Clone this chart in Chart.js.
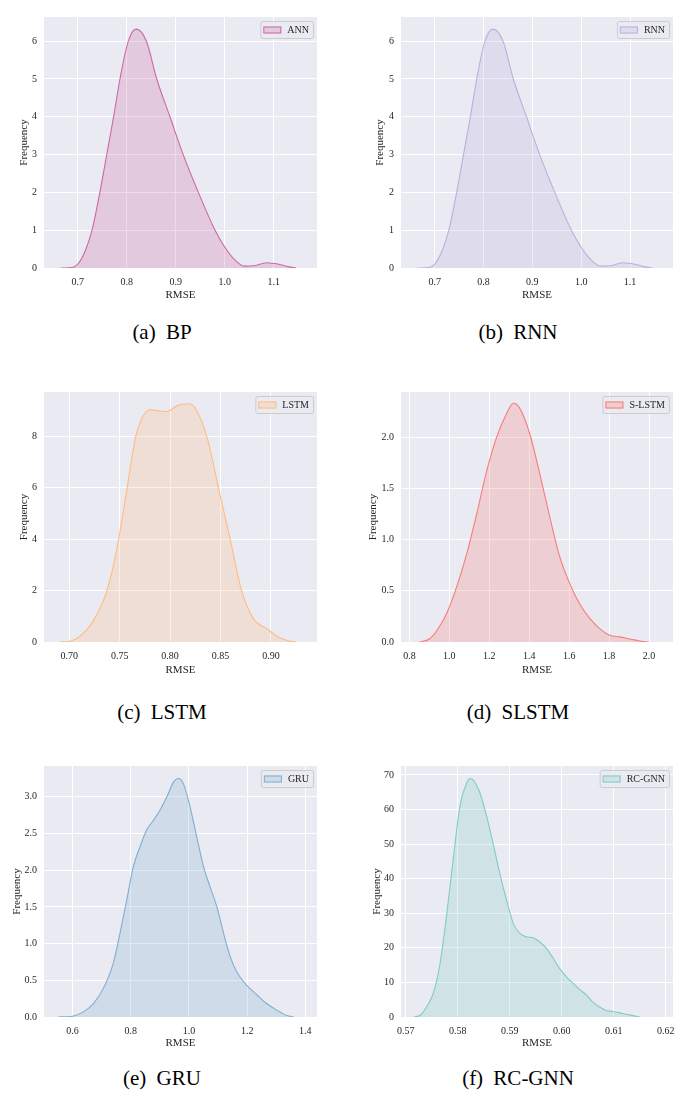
<!DOCTYPE html>
<html>
<head>
<meta charset="utf-8">
<script src="https://cdn.jsdelivr.net/npm/chart.js@4.4.0/dist/chart.umd.min.js"></script>
<style>
    body { margin: 0; background: #fff; width: 685px; height: 1093px; position: relative; overflow: hidden; }
    canvas { position: absolute; }
    .cap { position: absolute; font-family: "Liberation Serif", serif; font-size: 21px; color: #000;
           white-space: pre; transform: translate(-50%, -50%); word-spacing: 5px; }
</style>
</head>
<body>
<canvas id="c1"></canvas>
<canvas id="c2"></canvas>
<canvas id="c3"></canvas>
<canvas id="c4"></canvas>
<canvas id="c5"></canvas>
<canvas id="c6"></canvas>
<div class="cap" id="cap1"></div>
<div class="cap" id="cap2"></div>
<div class="cap" id="cap3"></div>
<div class="cap" id="cap4"></div>
<div class="cap" id="cap5"></div>
<div class="cap" id="cap6"></div>

<script>
// density curves (RMSE -> frequency)
const bpX = [0.665, 0.69, 0.70, 0.715, 0.729, 0.745, 0.759, 0.773, 0.786, 0.803, 0.819, 0.84, 0.861, 0.888, 0.915, 0.946, 0.98, 1.0, 1.02, 1.04, 1.06, 1.085, 1.11, 1.13, 1.145];
const bpY = [0, 0.02, 0.1, 0.45, 1.0, 2.0, 3.0, 4.0, 5.0, 6.0, 6.32, 6.0, 5.0, 4.0, 3.0, 2.0, 1.0, 0.55, 0.22, 0.05, 0.06, 0.14, 0.1, 0.03, 0];

const rnnX = [0.665, 0.69, 0.70, 0.715, 0.729, 0.745, 0.759, 0.773, 0.786, 0.803, 0.819, 0.84, 0.861, 0.888, 0.915, 0.946, 0.98, 1.0, 1.02, 1.04, 1.06, 1.085, 1.11, 1.13, 1.145];
const rnnY = [0, 0.02, 0.1, 0.45, 1.0, 2.0, 3.0, 4.0, 5.0, 6.0, 6.32, 6.0, 5.0, 4.0, 3.0, 2.0, 1.0, 0.55, 0.22, 0.05, 0.06, 0.14, 0.1, 0.03, 0];

const lstmX = [0.69, 0.70, 0.707, 0.717, 0.727, 0.737, 0.747, 0.757, 0.766, 0.772, 0.780, 0.788, 0.797, 0.807, 0.818, 0.825, 0.8364, 0.848, 0.8596, 0.871, 0.8828, 0.896, 0.906, 0.916, 0.925];
const lstmY = [0, 0.03, 0.13, 0.45, 1.04, 1.95, 3.57, 5.9, 8.0, 8.7, 9.04, 9.0, 8.97, 9.2, 9.27, 9.1, 8.0, 6.0, 4.0, 2.0, 0.9, 0.52, 0.22, 0.06, 0];

const slstmX = [0.85, 0.9, 0.937, 0.987, 1.037, 1.087, 1.137, 1.187, 1.237, 1.287, 1.32, 1.353, 1.403, 1.453, 1.503, 1.553, 1.603, 1.653, 1.703, 1.753, 1.803, 1.853, 1.903, 1.953, 2.0];
const slstmY = [0, 0.03, 0.11, 0.28, 0.54, 0.86, 1.25, 1.67, 2.0, 2.23, 2.33, 2.28, 2.03, 1.64, 1.22, 0.83, 0.57, 0.37, 0.23, 0.13, 0.065, 0.05, 0.03, 0.01, 0];

const gruX = [0.55, 0.6, 0.637, 0.671, 0.706, 0.74, 0.763, 0.786, 0.809, 0.832, 0.855, 0.878, 0.901, 0.924, 0.947, 0.964, 0.981, 1.004, 1.027, 1.05, 1.073, 1.096, 1.119, 1.142, 1.165, 1.199, 1.234, 1.268, 1.303, 1.337, 1.36];
const gruY = [0, 0.01, 0.07, 0.18, 0.39, 0.73, 1.14, 1.59, 2.05, 2.32, 2.55, 2.68, 2.82, 3.0, 3.2, 3.25, 3.18, 2.86, 2.45, 2.05, 1.77, 1.5, 1.14, 0.82, 0.61, 0.43, 0.30, 0.18, 0.09, 0.02, 0];

const rcgnnX = [0.5716, 0.5728, 0.574, 0.5753, 0.5766, 0.5779, 0.5792, 0.5804, 0.5817, 0.5824, 0.583, 0.5843, 0.5856, 0.5868, 0.5881, 0.5894, 0.5907, 0.592, 0.5932, 0.5945, 0.5958, 0.5971, 0.5984, 0.5996, 0.6009, 0.6022, 0.6035, 0.6048, 0.606, 0.6073, 0.6086, 0.6099, 0.6112, 0.6124, 0.6137, 0.615];
const rcgnnY = [0, 0.5, 2.9, 6.8, 15.4, 29.9, 46.3, 60.8, 67.6, 69, 68.5, 64.7, 57.9, 50.2, 41.5, 33.8, 27, 24.1, 23.2, 22.9, 21.7, 19.8, 16.9, 14, 11.6, 9.7, 7.9, 6.3, 4.3, 2.9, 1.9, 1.6, 1.2, 0.8, 0.4, 0];

// tick labels
const bpXTicks = ["0.7", "0.8", "0.9", "1.0", "1.1"];
const bpYTicks = ["0", "1", "2", "3", "4", "5", "6"];
const lstmXTicks = ["0.70", "0.75", "0.80", "0.85", "0.90"];
const lstmYTicks = ["0", "2", "4", "6", "8"];
const slstmXTicks = ["0.8", "1.0", "1.2", "1.4", "1.6", "1.8", "2.0"];
const slstmYTicks = ["0.0", "0.5", "1.0", "1.5", "2.0"];
const gruXTicks = ["0.6", "0.8", "1.0", "1.2", "1.4"];
const gruYTicks = ["0.0", "0.5", "1.0", "1.5", "2.0", "2.5", "3.0"];
const rcgnnXTicks = ["0.57", "0.58", "0.59", "0.60", "0.61", "0.62"];
const rcgnnYTicks = ["0", "10", "20", "30", "40", "50", "60", "70"];

const seriesNames = ["ANN", "RNN", "LSTM", "S-LSTM", "GRU", "RC-GNN"];
const captions = ["(a) BP", "(b) RNN", "(c) LSTM", "(d) SLSTM", "(e) GRU", "(f) RC-GNN"];

const tickFont = { family: "'Liberation Serif', serif", size: 10 };
const titleFont = { family: "'Liberation Serif', serif", size: 11 };
const textColor = "#262626";

// page layout, in page pixels
const panels = [
    { id: "c1", x: bpX, y: bpY, xt: bpXTicks, yt: bpYTicks, rgb: "205,105,165", xr: [0.631, 1.188], yMax: 6.64,
      box: [0, 0, 340, 305], plot: [44, 17, 317, 268], yPad: 17.4, cap: [162, 332] },
    { id: "c2", x: rnnX, y: rnnY, xt: bpXTicks, yt: bpYTicks, rgb: "186,176,222", xr: [0.631, 1.188], yMax: 6.64,
      box: [345, 0, 340, 305], plot: [401, 17, 673, 268], yPad: 28.4, cap: [518, 332] },
    { id: "c3", x: lstmX, y: lstmY, xt: lstmXTicks, yt: lstmYTicks, rgb: "255,188,128", xr: [0.675, 0.9457], yMax: 9.73,
      box: [0, 378, 340, 302], plot: [44, 392, 317, 642], yPad: 17.4, cap: [162, 712] },
    { id: "c4", x: slstmX, y: slstmY, xt: slstmXTicks, yt: slstmYTicks, rgb: "248,124,120", xr: [0.758, 2.12], yMax: 2.44,
      box: [345, 378, 340, 302], plot: [401, 392, 673, 642], yPad: 21.4, cap: [518, 712] },
    { id: "c5", x: gruX, y: gruY, xt: gruXTicks, yt: gruYTicks, rgb: "128,174,208", xr: [0.502, 1.44], yMax: 3.42,
      box: [0, 750, 340, 303], plot: [44, 766, 317, 1017], yPad: 10.4, cap: [162, 1078] },
    { id: "c6", x: rcgnnX, y: rcgnnY, xt: rcgnnXTicks, yt: rcgnnYTicks, rgb: "128,204,196", xr: [0.5691, 0.6214], yMax: 72.6,
      box: [345, 750, 340, 303], plot: [401, 766, 673, 1017], yPad: 25.4, cap: [518, 1078] }
];

// seaborn-ish grey plot background
const bgPlugin = {
    id: "bg",
    beforeDraw(chart) {
        const a = chart.chartArea, ctx = chart.ctx;
        ctx.save();
        ctx.fillStyle = "#EAEAF2";
        ctx.fillRect(a.left, a.top, a.right - a.left, a.bottom - a.top);
        ctx.restore();
    }
};

// legend box in the upper right corner of the plot area
const boxLegend = {
    id: "boxLegend",
    afterDraw(chart) {
        const a = chart.chartArea, ctx = chart.ctx;
        const ds = chart.data.datasets[0];
        ctx.save();
        ctx.font = "10px 'Liberation Serif', serif";
        const tw = ctx.measureText(ds.label).width;
        const w = 3 + 18 + 6 + tw + 4, h = 17;
        const x = a.right - 4 - w, y = a.top + 4;
        ctx.beginPath();
        ctx.roundRect(x + 0.5, y + 0.5, w, h, 2);
        ctx.fillStyle = "rgba(234,234,242,0.8)";
        ctx.fill();
        ctx.strokeStyle = "#cccccc";
        ctx.lineWidth = 1;
        ctx.stroke();
        ctx.fillStyle = "#EAEAF2";
        ctx.fillRect(x + 3, y + h / 2 - 3, 18, 7);
        ctx.fillStyle = ds.backgroundColor;
        ctx.fillRect(x + 3, y + h / 2 - 3, 18, 7);
        ctx.strokeStyle = ds.borderColor;
        ctx.strokeRect(x + 3.5, y + h / 2 - 2.5, 17, 6);
        ctx.fillStyle = textColor;
        ctx.textBaseline = "middle";
        ctx.fillText(ds.label, x + 27, y + h / 2 + 1);
        ctx.restore();
    }
};

function tickSetter(labels) {
    return function(scale) {
        scale.ticks = labels.map(s => ({ value: parseFloat(s) }));
    };
}

function drawPanel(p, idx) {
    const cv = document.getElementById(p.id);
    const [bl, bt, bw, bh] = p.box;
    const [pl, pt, pr, pb] = p.plot;
    cv.width = bw; cv.height = bh;
    cv.style.left = bl + "px"; cv.style.top = bt + "px";

    const points = p.x.map((v, i) => ({ x: v, y: p.y[i] }));

    new Chart(cv.getContext("2d"), {
        type: "line",
        data: {
            datasets: [{
                label: seriesNames[idx],
                data: points,
                borderColor: "rgb(" + p.rgb + ")",
                backgroundColor: "rgba(" + p.rgb + ",0.25)",
                borderWidth: 1.1,
                fill: "origin",
                pointRadius: 0,
                cubicInterpolationMode: "monotone"
            }]
        },
        options: {
            responsive: false,
            animation: false,
            devicePixelRatio: 1,
            layout: { padding: { left: 0, top: pt - bt, right: bl + bw - pr, bottom: 0 } },
            plugins: { legend: { display: false }, tooltip: { enabled: false } },
            scales: {
                x: {
                    type: "linear",
                    min: p.xr[0], max: p.xr[1],
                    afterBuildTicks: tickSetter(p.xt),
                    afterFit: s => { s.height = bt + bh - pb; },
                    ticks: { font: tickFont, color: textColor, padding: 8, maxRotation: 0, autoSkip: false,
                             callback: (v, i) => p.xt[i] },
                    grid: { color: "#ffffff", lineWidth: 1, drawTicks: false },
                    border: { display: false },
                    title: { display: true, text: "RMSE", font: titleFont, color: textColor, padding: { top: 0, bottom: 3 } }
                },
                y: {
                    min: 0, max: p.yMax,
                    afterBuildTicks: tickSetter(p.yt),
                    afterFit: s => { s.width = pl - bl; },
                    ticks: { font: tickFont, color: textColor, padding: 7, autoSkip: false,
                             callback: (v, i) => p.yt[i] },
                    grid: { color: "#ffffff", lineWidth: 1, drawTicks: false },
                    border: { display: false },
                    title: { display: true, text: "Frequency", font: titleFont, color: textColor, padding: { top: p.yPad, bottom: 0 } }
                }
            }
        },
        plugins: [bgPlugin, boxLegend]
    });

    const cap = document.getElementById("cap" + (idx + 1));
    cap.textContent = captions[idx];
    cap.style.left = p.cap[0] + "px";
    cap.style.top = p.cap[1] + "px";
}

window.onload = function() {
    panels.forEach(drawPanel);
};
</script>
</body>
</html>
